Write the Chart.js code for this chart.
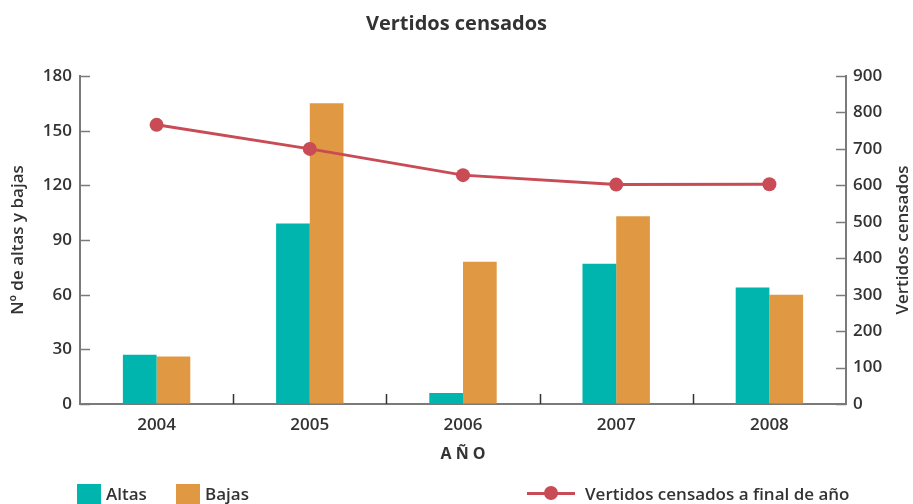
<!DOCTYPE html>
<html>
<head>
<meta charset="utf-8">
<script src="https://cdn.jsdelivr.net/npm/chart.js@4"></script>
<style>
  html, body { margin: 0; padding: 0; background: #fff; }
  #wrap { position: relative; width: 913px; height: 504px; }
  .leg { position: absolute; font-family: "Open Sans", sans-serif; font-weight: 600; font-size: 17px; line-height: 22px; color: #333; }
  .sw { position: absolute; width: 24px; height: 20px; }
</style>
</head>
<body>
<div id="wrap">
  <canvas id="c" width="913" height="504"></canvas>
  <div class="sw" style="left:77px; top:484px; background:#00B5AE"></div>
  <div class="leg" style="left:106px; top:483px">Altas</div>
  <div class="sw" style="left:176px; top:484px; background:#E19842"></div>
  <div class="leg" style="left:205px; top:483px">Bajas</div>
  <div style="position:absolute; left:527px; top:492px; width:48px; height:3px; background:#C94B55"></div>
  <div style="position:absolute; left:544px; top:486px; width:14px; height:14px; border-radius:50%; background:#C94B55"></div>
  <div class="leg" style="left:585px; top:483px">Vertidos censados a final de año</div>
</div>
<script>
const years = ['2004', '2005', '2006', '2007', '2008'];
const altas = [27, 99, 6, 77, 64];
const bajas = [26, 165, 78, 103, 60];
const vertidos = [766, 700, 628, 602, 603];
const leftTicks = [0, 30, 60, 90, 120, 150, 180];
const rightTicks = [0, 100, 200, 300, 400, 500, 600, 700, 800, 900];

const FONT = '"Open Sans", sans-serif';
const TEXT = '#333';
const AXIS = '#7a7a7a';

// small tick marks pointing into the plot, plus the right axis title (reads bottom-up)
const innerTicks = {
  id: 'innerTicks',
  afterDraw(chart) {
    const ctx = chart.ctx;
    const a = chart.chartArea;
    const y = chart.scales.y, y1 = chart.scales.y1, x = chart.scales.x;
    ctx.save();
    ctx.lineWidth = 1.5;
    ctx.strokeStyle = AXIS;
    leftTicks.forEach(v => {
      const p = Math.round(y.getPixelForValue(v)) + 0.5;
      ctx.beginPath(); ctx.moveTo(a.left, p); ctx.lineTo(a.left + 10, p); ctx.stroke();
    });
    rightTicks.forEach(v => {
      const p = Math.round(y1.getPixelForValue(v)) + 0.5;
      ctx.beginPath(); ctx.moveTo(a.right - 10, p); ctx.lineTo(a.right, p); ctx.stroke();
    });
    ctx.strokeStyle = '#333';
    for (let i = 1; i < years.length; i++) {
      const px = Math.round((x.getPixelForTick(i - 1) + x.getPixelForTick(i)) / 2) + 0.5;
      ctx.beginPath(); ctx.moveTo(px, a.bottom); ctx.lineTo(px, a.bottom - 10); ctx.stroke();
    }
    ctx.translate(y1.right - 10, (a.top + a.bottom) / 2);
    ctx.rotate(-Math.PI / 2);
    ctx.fillStyle = TEXT;
    ctx.font = '600 17px ' + FONT;
    ctx.textAlign = 'center';
    ctx.textBaseline = 'middle';
    ctx.fillText('Vertidos censados', 0, 0);
    ctx.restore();
  }
};

const tickFont = { family: FONT, size: 17, weight: 600 };

new Chart(document.getElementById('c'), {
  type: 'bar',
  data: {
    labels: years,
    datasets: [
      { type: 'line', label: 'Vertidos censados a final de año', data: vertidos, yAxisID: 'y1',
        borderColor: '#C94B55', backgroundColor: '#C94B55', borderWidth: 3,
        pointRadius: 7, pointBackgroundColor: '#C94B55', pointBorderWidth: 0, tension: 0, order: 0 },
      { label: 'Altas', data: altas, yAxisID: 'y', backgroundColor: '#00B5AE',
        categoryPercentage: 0.44, barPercentage: 1, order: 1 },
      { label: 'Bajas', data: bajas, yAxisID: 'y', backgroundColor: '#E19842',
        categoryPercentage: 0.44, barPercentage: 1, order: 1 }
    ]
  },
  options: {
    responsive: false,
    animation: false,
    layout: { padding: { left: 0, right: 0, top: 0, bottom: 40 } },
    plugins: {
      legend: { display: false },
      tooltip: { enabled: false },
      title: {
        display: true,
        text: 'Vertidos censados',
        color: TEXT,
        font: { family: FONT, size: 20, weight: 'bold' },
        padding: { top: 12, bottom: 40 }
      }
    },
    scales: {
      x: {
        offset: true,
        grid: { display: false },
        border: { color: AXIS, width: 2 },
        ticks: { color: TEXT, font: tickFont, padding: 3 },
        title: { display: true, text: 'A Ñ O', color: TEXT, font: { family: FONT, size: 16, weight: 'bold' }, padding: { top: 0, bottom: 0 } },
        afterFit(s) { s.height = 60; }
      },
      y: {
        position: 'left',
        min: 0, max: 180,
        afterBuildTicks(s) { s.ticks = leftTicks.map(v => ({ value: v })); },
        grid: { drawOnChartArea: false, drawTicks: false },
        border: { color: AXIS, width: 2 },
        ticks: { color: TEXT, font: tickFont, padding: 8 },
        title: { display: true, text: 'Nº de altas y bajas', color: TEXT, font: tickFont, padding: { top: 8, bottom: 0 } },
        afterFit(s) { s.width = 80; }
      },
      y1: {
        position: 'right',
        min: 0, max: 900,
        afterBuildTicks(s) { s.ticks = rightTicks.map(v => ({ value: v })); },
        grid: { drawOnChartArea: false, drawTicks: false },
        border: { color: AXIS, width: 2 },
        ticks: { color: TEXT, font: tickFont, padding: 7 },
        title: { display: false },
        afterFit(s) { s.width = 67; }
      }
    }
  },
  plugins: [innerTicks]
});
</script>
</body>
</html>
